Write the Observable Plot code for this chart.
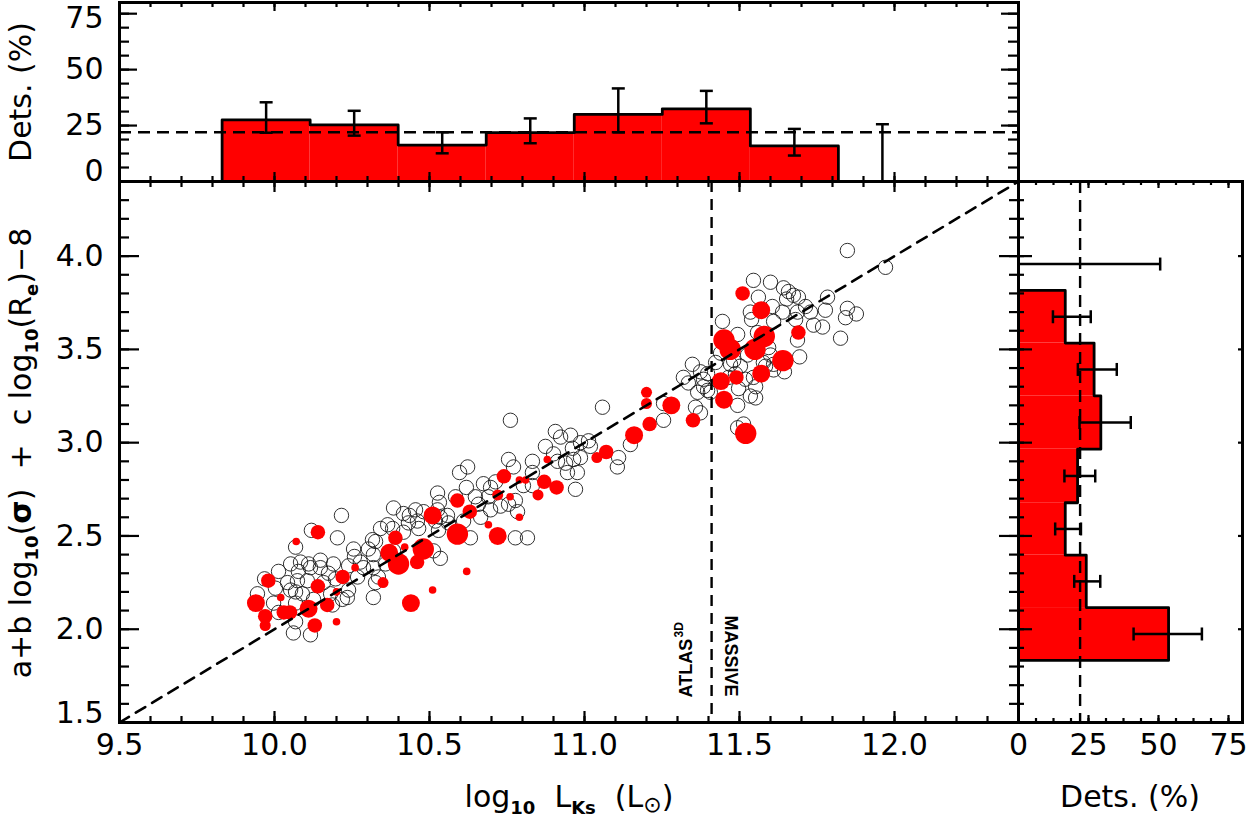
<!DOCTYPE html>
<html>
<head>
<meta charset="utf-8">
<script src="https://cdn.jsdelivr.net/npm/d3@7"></script>
<script src="https://cdn.jsdelivr.net/npm/@observablehq/plot@0.6"></script>
<style>
  html, body { margin: 0; padding: 0; background: #fff; }
  #fig { position: relative; width: 1248px; height: 821px; overflow: hidden; background: #fff; }
  #fig svg { position: absolute; }
</style>
</head>
<body>
<div id="fig"></div>
<script>
// ---------------------------------------------------------------------------
// Galaxies: [log10 L_Ks, a + b log10(sigma) + c log10(Re) - 8]
// ---------------------------------------------------------------------------
const undetected = [
  [9.945,2.19],[10.003,2.22],[9.997,2.14],[10.013,2.09],[10.013,2.31],[10.042,2.25],[10.052,2.21],
  [10.052,2.35],[10.068,2.44],[10.068,2.20],[10.068,2.14],[10.068,2.04],[10.061,1.98],[10.074,2.26],
  [10.077,2.31],[10.084,2.36],[10.090,2.19],[10.106,2.26],[10.110,2.35],[10.116,2.33],[10.116,1.97],
  [10.119,2.53],[10.126,2.16],[10.148,2.37],[10.148,2.33],[10.158,2.25],[10.174,2.30],[10.181,2.19],
  [10.187,2.13],[10.190,2.35],[10.197,2.27],[10.203,2.49],[10.216,2.61],[10.219,2.16],[10.235,2.17],
  [10.239,2.34],[10.239,2.21],[10.255,2.43],[10.258,2.39],[10.268,2.28],[10.277,2.36],[10.287,2.33],
  [10.303,2.43],[10.316,2.48],[10.319,2.40],[10.319,2.33],[10.319,2.17],[10.326,2.47],[10.326,2.25],
  [10.335,2.28],[10.342,2.54],[10.358,2.35],[10.365,2.56],[10.381,2.54],[10.384,2.65],[10.384,2.42],
  [9.968,2.27],
  [10.416,2.52],[10.416,2.62],[10.432,2.57],[10.435,2.61],[10.455,2.64],[10.461,2.58],[10.465,2.54],
  [10.481,2.63],[10.513,2.42],[10.519,2.58],[10.526,2.64],[10.526,2.73],[10.529,2.53],[10.532,2.68],
  [10.535,2.60],[10.535,2.38],[10.558,2.61],[10.561,2.57],[10.584,2.71],[10.597,2.84],[10.623,2.87],
  [10.610,2.58],[10.619,2.76],[10.632,2.49],[10.648,2.71],[10.658,2.67],[10.665,2.60],[10.674,2.78],
  [10.690,2.71],[10.697,2.76],[10.697,2.64],[10.713,2.79],[10.729,2.66],[10.755,2.91],[10.755,2.67],
  [10.761,3.12],[10.771,2.87],[10.777,2.69],[10.784,2.63],[10.777,2.49],[10.803,2.77],[10.816,2.49],
  [10.832,2.90],[10.832,2.84],[10.832,2.77],[10.874,2.98],[10.900,2.94],[10.906,3.06],[10.913,2.90],
  [10.923,3.03],[10.939,2.89],[10.945,2.84],[10.955,3.04],[10.961,2.97],[10.965,2.91],[10.971,2.75],
  [10.977,2.84],[10.987,3.00],[10.987,2.92],[11.013,3.01],[11.019,2.98],[11.058,3.19],[11.106,2.87],
  [11.110,2.92],[11.148,2.99],[11.255,3.12],[11.255,3.21],
  [11.348,3.42],[11.319,3.35],[11.335,3.32],[11.365,3.27],[11.374,3.38],[11.384,3.34],[11.397,3.28],
  [11.358,3.19],[11.374,3.16],
  [11.848,4.03],[11.971,3.94],[11.545,3.87],[11.600,3.86],[11.642,3.83],[11.658,3.81],[11.674,3.79],
  [11.690,3.78],[11.652,3.77],[11.561,3.78],[11.606,3.73],[11.535,3.70],[11.539,3.66],[11.639,3.70],
  [11.713,3.73],[11.729,3.70],[11.784,3.78],[11.777,3.71],[11.739,3.63],[11.768,3.62],[11.848,3.72],
  [11.877,3.69],[11.842,3.67],[11.826,3.56],[11.694,3.46],[11.645,3.38],[11.610,3.42],[11.600,3.47],
  [11.445,3.65],[11.494,3.58],[11.526,3.47],[11.471,3.42],[11.487,3.37],[11.503,3.41],[11.519,3.34],
  [11.552,3.30],[11.552,3.24],[11.494,3.20],[11.494,3.08],[11.513,3.10],[11.423,3.43],[11.439,3.48],
  [11.481,3.44],[11.558,3.59],[11.594,3.51],[11.577,3.43],[11.610,3.65],[11.681,3.66],[11.687,3.70],
  [11.687,3.55],[11.610,3.39],[11.584,3.41],[11.397,3.37],[11.384,3.30],[11.406,3.27],[11.545,3.35],
  [11.535,3.25],[11.465,3.35],[11.497,3.29]
];

// Detections: [log10 L_Ks, FP combination, detection strength class 1..5]
const detected = [
  [9.94,2.14,4],[9.98,2.26,3],[10.02,2.17,1],[9.97,2.07,3],[9.97,2.02,2],[10.03,2.09,3],[10.05,2.09,3],
  [10.11,2.11,4],[10.13,2.02,3],[10.14,2.23,3],[10.14,2.52,3],[10.07,2.47,1],[10.17,2.13,3],[10.20,2.04,1],
  [10.20,2.20,1],[10.22,2.28,3],[10.26,2.33,1],[10.35,2.25,2],[10.37,2.41,4],[10.40,2.35,5],[10.39,2.49,3],
  [10.42,2.44,1],[10.44,2.14,4],[10.46,2.36,3],[10.48,2.43,5],[10.51,2.61,4],[10.51,2.21,1],[10.59,2.69,3],
  [10.59,2.51,5],[10.63,2.63,3],[10.62,2.31,1],[10.69,2.56,1],[10.72,2.50,4],[10.72,2.72,2],[10.74,2.82,3],
  [10.76,2.71,1],[10.79,2.60,1],[10.79,2.80,1],[10.81,2.80,1],[10.85,2.72,2],[10.87,2.79,3],[10.88,2.91,1],
  [10.91,2.76,3],[11.04,2.92,2],[11.07,2.95,3],[11.16,3.04,4],[11.21,3.10,3],[11.20,3.27,2],[11.20,3.21,2],
  [11.28,3.20,4],[11.35,3.12,3],[11.44,3.33,4],[11.45,3.23,4],[11.49,3.35,3],[11.45,3.55,5],[11.47,3.50,5],
  [11.51,3.80,3],[11.57,3.71,4],[11.58,3.57,5],[11.55,3.50,5],[11.57,3.37,4],[11.64,3.44,5],[11.69,3.59,3],
  [11.52,3.05,5]
];

// Detection fraction in bins of luminosity (top panel)
const lumBinEdges = [9.831, 10.115, 10.399, 10.683, 10.967, 11.251, 11.535, 11.819, 12.103];
const lumDetPct   = [27.5, 25.3, 16.3, 21.8, 30.0, 32.5, 15.9, 0];
const lumErrLow   = [21.8, 20.5, 12.6, 17.1, 22.0, 26.0, 11.6, 0];
const lumErrHigh  = [35.4, 31.6, 22.0, 28.2, 41.6, 40.5, 23.5, 25.6];

// Detection fraction in bins of the FP combination (right panel)
const fpBinEdges  = [1.833, 2.116, 2.397, 2.678, 2.965, 3.251, 3.534, 3.816, 4.099];
const fpDetPct    = [53.6, 24.2, 16.7, 21.1, 29.4, 27.0, 16.7, 0];
const fpErrLow    = [41.1, 19.9, 13.1, 16.4, 21.8, 21.2, 12.3, 0];
const fpErrHigh   = [65.5, 29.2, 22.3, 27.4, 40.1, 35.1, 25.8, 50.6];

const overallDetPct = 22;      // whole-sample detection rate
const massiveLimit = 11.41;    // ATLAS3D / MASSIVE luminosity boundary
const fpOffset = 8;            // one-to-one relation: FP = log L - 8

const xDomain = [9.5, 12.4];
const yDomain = [1.5, 4.4];
const pctDomain = [0, 80];
const xTickLabels = [9.5, 10.0, 10.5, 11.0, 11.5, 12.0];
const yTickLabels = [1.5, 2.0, 2.5, 3.0, 3.5, 4.0];
const pctTickLabels = [0, 25, 50, 75];

// ---------------------------------------------------------------------------
const RED = "#ff0000";
const INK = "#000";
const TICK_FONT = "DejaVu Sans";
const svgStyle = {background: "transparent", overflow: "visible", fontFamily: TICK_FONT, fontSize: "30px", color: INK};

const xMinor = d3.range(95, 125).map(d => d / 10);
const yMinor = d3.range(15, 45).map(d => d / 10);
const pctMinor = d3.range(0, 13).map(i => i * 6.25);

// inward-pointing box ticks
function xTicks(values, len, side, innerH) {
  const inset = side === "bottom" ? {insetTop: innerH - len} : {insetBottom: innerH - len};
  return Plot.tickX(values, {x: d => d, stroke: INK, strokeWidth: 2.2, ...inset});
}
function yTicks(values, len, side, innerW) {
  const inset = side === "left" ? {insetRight: innerW - len} : {insetLeft: innerW - len};
  return Plot.tickY(values, {y: d => d, stroke: INK, strokeWidth: 2.2, ...inset});
}
const hCap = {draw(ctx, size) { const r = Math.sqrt(size / Math.PI); ctx.moveTo(-r, 0); ctx.lineTo(r, 0); }};
const vCap = {draw(ctx, size) { const r = Math.sqrt(size / Math.PI); ctx.moveTo(0, -r); ctx.lineTo(0, r); }};
const labelStyle = {fontSize: 30, fontFamily: TICK_FONT, fill: INK, label: null};

const fig = document.getElementById("fig");
function place(node, left, topPx) {
  node.style.left = left + "px";
  node.style.top = topPx + "px";
  fig.appendChild(node);
}

// ---------------------------------------------------------------------------
// Main scatter panel
const M = {width: 1030, height: 649, marginTop: 9, marginRight: 12, marginBottom: 99, marginLeft: 119};
const mW = M.width - M.marginLeft - M.marginRight;
const mH = M.height - M.marginTop - M.marginBottom;

const undetRows = undetected.map(([logL, fp]) => ({logL, fp}));
const detRows = detected.map(([logL, fp, cls]) => ({logL, fp, cls}));
const oneToOne = xDomain.map(logL => ({logL, fp: logL - fpOffset}));

const mainPanel = Plot.plot({
  ...M,
  style: svgStyle,
  x: {domain: xDomain, axis: null},
  y: {domain: yDomain, axis: null},
  r: {type: "linear", domain: [1, 5], range: [3.8, 10.7]},
  marks: [
    Plot.dot(undetRows, {x: "logL", y: "fp", r: 7.2, stroke: "#1a1a1a", strokeWidth: 0.9, fill: "none"}),
    Plot.dot(detRows, {x: "logL", y: "fp", r: "cls", fill: RED, stroke: "none"}),
    Plot.line(oneToOne, {x: "logL", y: "fp", stroke: INK, strokeWidth: 2.6, strokeDasharray: "11,8"}),
    Plot.ruleX([massiveLimit], {x: d => d, stroke: INK, strokeWidth: 2.4, strokeDasharray: "11,7"}),
    Plot.text([massiveLimit], {x: d => d, frameAnchor: "bottom", text: () => "ATLAS", rotate: -90,
      textAnchor: "start", lineAnchor: "middle", dx: -25.5, dy: -25,
      fontFamily: "Liberation Sans", fontWeight: "bold", fontSize: 18, fill: INK}),
    Plot.text([massiveLimit], {x: d => d, frameAnchor: "bottom", text: () => "3D", rotate: -90,
      textAnchor: "start", lineAnchor: "middle", dx: -32, dy: -85,
      fontFamily: "Liberation Sans", fontWeight: "bold", fontSize: 12, fill: INK}),
    Plot.text([massiveLimit], {x: d => d, frameAnchor: "bottom", text: () => "MASSIVE", rotate: 90,
      textAnchor: "start", lineAnchor: "middle", dx: 19, dy: -107,
      fontFamily: "Liberation Sans", fontWeight: "bold", fontSize: 18, fill: INK}),
    xTicks(xMinor, 6, "bottom", mH), xTicks(xTickLabels, 11, "bottom", mH),
    xTicks(xMinor, 6, "top", mH), xTicks(xTickLabels, 11, "top", mH),
    yTicks(yMinor, 10, "left", mW), yTicks(yTickLabels, 20, "left", mW),
    yTicks(yMinor, 9, "right", mW), yTicks(yTickLabels, 19, "right", mW),
    Plot.frame({stroke: INK, strokeWidth: 3}),
    Plot.axisX(xTickLabels, {anchor: "bottom", tickSize: 0, tickPadding: 11, tickFormat: d3.format(".1f"), ...labelStyle}),
    Plot.axisY(yTickLabels.slice(1), {anchor: "left", tickSize: 0, tickPadding: 16, tickFormat: d3.format(".1f"), ...labelStyle}),
    Plot.axisY(yTickLabels.slice(0, 1), {anchor: "left", tickSize: 0, tickPadding: 16, tickFormat: d3.format(".1f"), dy: -9, ...labelStyle})
  ]
});

// ---------------------------------------------------------------------------
// Top panel: detection fraction vs luminosity
const T = {width: 1030, height: 190, marginTop: 2, marginRight: 12, marginBottom: 9, marginLeft: 119};
const tW = T.width - T.marginLeft - T.marginRight;
const tH = T.height - T.marginTop - T.marginBottom;

const lumBins = lumDetPct.map((pct, i) => ({
  lo: lumBinEdges[i], hi: lumBinEdges[i + 1], mid: (lumBinEdges[i] + lumBinEdges[i + 1]) / 2,
  pct, errLo: lumErrLow[i], errHi: lumErrHigh[i]
}));
const lumFilled = lumBins.filter(b => b.pct > 0);
const lumOutline = [{x: lumFilled[0].lo, y: 0}]
  .concat(lumFilled.flatMap(b => [{x: b.lo, y: b.pct}, {x: b.hi, y: b.pct}]))
  .concat([{x: lumFilled[lumFilled.length - 1].hi, y: 0}]);

const topPanel = Plot.plot({
  ...T,
  style: svgStyle,
  x: {domain: xDomain, axis: null},
  y: {domain: pctDomain, axis: null},
  marks: [
    Plot.rectY(lumFilled, {x1: "lo", x2: "hi", y: "pct", fill: RED}),
    Plot.line(lumOutline, {x: "x", y: "y", stroke: INK, strokeWidth: 2.8}),
    Plot.ruleY([overallDetPct], {y: d => d, stroke: INK, strokeWidth: 2.4, strokeDasharray: "12,7"}),
    Plot.ruleX(lumBins, {x: "mid", y1: "errLo", y2: "errHi", stroke: INK, strokeWidth: 2.5}),
    Plot.dot(lumBins, {x: "mid", y: "errHi", symbol: hCap, r: 6.5, stroke: INK, strokeWidth: 2.5, fill: "none"}),
    Plot.dot(lumBins.filter(b => b.errLo > 0), {x: "mid", y: "errLo", symbol: hCap, r: 6.5, stroke: INK, strokeWidth: 2.5, fill: "none"}),
    xTicks(xMinor, 5, "bottom", tH), xTicks(xTickLabels, 9, "bottom", tH),
    xTicks(xMinor, 5, "top", tH), xTicks(xTickLabels, 9, "top", tH),
    yTicks(pctMinor, 10, "left", tW), yTicks(pctTickLabels, 18, "left", tW),
    yTicks(pctMinor, 10, "right", tW), yTicks(pctTickLabels, 17, "right", tW),
    Plot.frame({stroke: INK, strokeWidth: 3}),
    Plot.axisY(pctTickLabels.slice(1, 3), {anchor: "left", tickSize: 0, tickPadding: 16, ...labelStyle}),
    Plot.axisY(pctTickLabels.slice(3), {anchor: "left", tickSize: 0, tickPadding: 16, dy: 5, ...labelStyle}),
    Plot.axisY(pctTickLabels.slice(0, 1), {anchor: "left", tickSize: 0, tickPadding: 16, dy: -10, ...labelStyle})
  ]
});

// ---------------------------------------------------------------------------
// Right panel: detection fraction vs FP combination
const R = {width: 248, height: 649, marginTop: 9, marginRight: 6, marginBottom: 99, marginLeft: 18};
const rW = R.width - R.marginLeft - R.marginRight;
const rH = R.height - R.marginTop - R.marginBottom;

const fpBins = fpDetPct.map((pct, i) => ({
  lo: fpBinEdges[i], hi: fpBinEdges[i + 1], mid: (fpBinEdges[i] + fpBinEdges[i + 1]) / 2,
  pct, errLo: fpErrLow[i], errHi: fpErrHigh[i]
}));
const fpFilled = fpBins.filter(b => b.pct > 0);
const fpOutline = [{x: 0, y: fpFilled[0].lo}]
  .concat(fpFilled.flatMap(b => [{x: b.pct, y: b.lo}, {x: b.pct, y: b.hi}]))
  .concat([{x: 0, y: fpFilled[fpFilled.length - 1].hi}]);

const rightPanel = Plot.plot({
  ...R,
  style: svgStyle,
  x: {domain: pctDomain, axis: null},
  y: {domain: yDomain, axis: null},
  marks: [
    Plot.rectX(fpFilled, {y1: "lo", y2: "hi", x: "pct", fill: RED}),
    Plot.line(fpOutline, {x: "x", y: "y", stroke: INK, strokeWidth: 2.8}),
    Plot.ruleX([overallDetPct], {x: d => d, stroke: INK, strokeWidth: 2.4, strokeDasharray: "12,7"}),
    Plot.ruleY(fpBins, {y: "mid", x1: "errLo", x2: "errHi", stroke: INK, strokeWidth: 2.5}),
    Plot.dot(fpBins, {y: "mid", x: "errHi", symbol: vCap, r: 6.5, stroke: INK, strokeWidth: 2.5, fill: "none"}),
    Plot.dot(fpBins.filter(b => b.errLo > 0), {y: "mid", x: "errLo", symbol: vCap, r: 6.5, stroke: INK, strokeWidth: 2.5, fill: "none"}),
    xTicks(pctMinor, 4, "bottom", rH), xTicks(pctTickLabels, 7, "bottom", rH),
    xTicks(pctMinor, 4, "top", rH), xTicks(pctTickLabels, 7, "top", rH),
    yTicks(yMinor, 6, "left", rW), yTicks(yTickLabels, 14, "left", rW),
    yTicks(yTickLabels, 4, "right", rW),
    Plot.frame({stroke: INK, strokeWidth: 3}),
    Plot.axisX(pctTickLabels, {anchor: "bottom", tickSize: 0, tickPadding: 11, ...labelStyle})
  ]
});

place(topPanel, 0, 0);
place(mainPanel, 0, 172);
place(rightPanel, 1000, 172);

// ---------------------------------------------------------------------------
// Axis titles (with sub/superscripts)
const overlay = d3.create("svg")
  .attr("width", 1248).attr("height", 821)
  .attr("font-family", TICK_FONT).attr("fill", INK)
  .style("pointer-events", "none");
overlay.node().style.left = "0px";
overlay.node().style.top = "0px";

function richText({x, y, rotate = 0, size = 30, parts}) {
  const t = overlay.append("text")
    .attr("transform", `translate(${x},${y}) rotate(${rotate})`)
    .attr("text-anchor", "middle")
    .attr("font-size", size)
    .style("white-space", "pre");
  let shift = 0;
  for (const p of parts) {
    const target = p.sub ? (p.shift ?? 7) : 0;
    const span = t.append("tspan").text(p.text).attr("dy", target - shift);
    if (p.sub) span.attr("font-size", p.size || 18);
    if (p.bold) span.attr("font-weight", "bold");
    shift = target;
  }
  return t;
}

richText({x: 569, y: 807, parts: [
  {text: "log"}, {text: "10", sub: true, bold: true}, {text: "  L"}, {text: "Ks", sub: true, bold: true},
  {text: "  (L"}, {text: "\u2299", sub: true, size: 22, shift: 5}, {text: ")"}
]});
richText({x: 31, y: 453, rotate: -90, parts: [
  {text: "a+b log"}, {text: "10", sub: true, bold: true}, {text: "("}, {text: "\u03c3", bold: true},
  {text: ")  +  c log"}, {text: "10", sub: true, bold: true}, {text: "(R"}, {text: "e", sub: true, bold: true},
  {text: ")\u22128"}
]});
richText({x: 31, y: 92, rotate: -90, parts: [{text: "Dets. (%)"}]});
richText({x: 1130, y: 807, parts: [{text: "Dets. (%)"}]});

fig.appendChild(overlay.node());
</script>
</body>
</html>
